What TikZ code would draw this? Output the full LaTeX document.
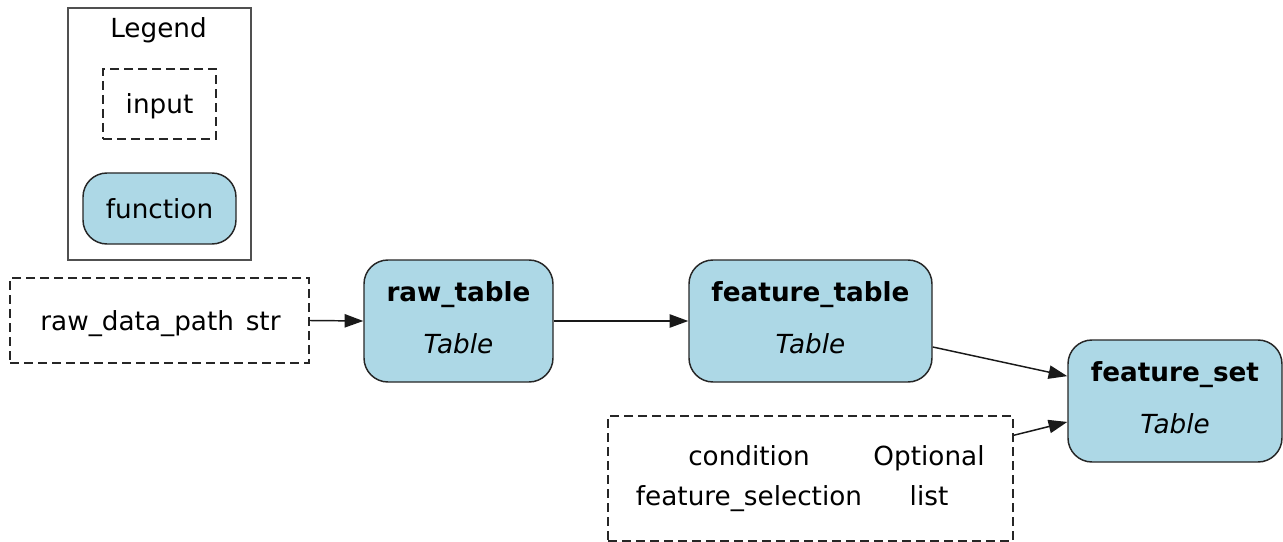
\documentclass[tikz,border=0pt]{standalone}
\usepackage{fontspec}
\setmainfont{DejaVu Sans}
\usetikzlibrary{arrows.meta}
\definecolor{fnblue}{HTML}{ADD8E6}
\definecolor{legendgray}{HTML}{505050}
\begin{document}
\begin{tikzpicture}[x=0.75pt,y=-0.75pt,
  every node/.style={font=\fontsize{19.7}{23}\selectfont, inner sep=0pt},
  inbox/.style={draw=black!85, line width=1.1pt, dash pattern=on 6.5pt off 4pt},
  fnbox/.style={draw=black!85, fill=fnblue, line width=1.1pt, rounded corners=18pt},
  edge/.style={draw=black!90, line width=1.1pt, -{Triangle[length=14pt,width=10pt]}},
  lbl/.style={text height=19pt, text depth=4.5pt},
]
\useasboundingbox (0,0) rectangle (1283,542);

% Legend
\node[draw=legendgray, line width=1.4pt, minimum width=137.25pt, minimum height=189pt] (legend) at (159.5,134) {};
\node[lbl] (legendtitle) at (158.5,28) {Legend};
\node[inbox, lbl, minimum width=84.75pt, minimum height=52.5pt] (leginput) at (159.5,104) {input};
\node[fnbox, lbl, minimum width=114.75pt, minimum height=53.25pt] (legfn) at (159.5,208.5) {function};

% Input raw_data_path
\node[inbox, minimum width=224.25pt, minimum height=63.75pt] (rawpath) at (159.5,320.5) {};
\node[lbl] (rawpathtxt) at (160.5,321) {raw\_data\_path\hspace{0.45em}str};

% Function nodes
\node[fnbox, minimum width=141.75pt, minimum height=91.5pt] (rawtable) at (458.5,321) {};
\node[lbl, font=\fontsize{19.7}{23}\selectfont\bfseries] (rawtablename) at (458.5,292) {raw\_table};
\node[lbl, font=\fontsize{19.7}{23}\selectfont\itshape] (rawtabletype) at (458.5,344) {Table};

\node[fnbox, minimum width=182.25pt, minimum height=91.5pt] (feattable) at (810.5,321) {};
\node[lbl, font=\fontsize{19.7}{23}\selectfont\bfseries] (feattablename) at (810.5,292) {feature\_table};
\node[lbl, font=\fontsize{19.7}{23}\selectfont\itshape] (feattabletype) at (810.5,344) {Table};

\node[fnbox, minimum width=160.5pt, minimum height=91.5pt] (featset) at (1175,401) {};
\node[lbl, font=\fontsize{19.7}{23}\selectfont\bfseries] (featsetname) at (1175,372) {feature\_set};
\node[lbl, font=\fontsize{19.7}{23}\selectfont\itshape] (featsettype) at (1175,424) {Table};

% Input condition / feature_selection
\node[inbox, minimum width=303.75pt, minimum height=93.75pt] (cond) at (810.5,478.5) {};
\node[lbl] (condname) at (749,456) {condition};
\node[lbl] (condtype) at (929,456) {Optional};
\node[lbl] (selname) at (749,496) {feature\_selection};
\node[lbl] (seltype) at (929,496) {list};

% Edges
\draw[edge] (rawpath.east) -- (rawtable.west);
\draw[edge] (rawtable.east) -- (feattable.west);
\draw[edge] (feattable.-12.5) -- (featset.167.4);
\draw[edge] (cond.12) -- (featset.-169.4);
\end{tikzpicture}
\end{document}
